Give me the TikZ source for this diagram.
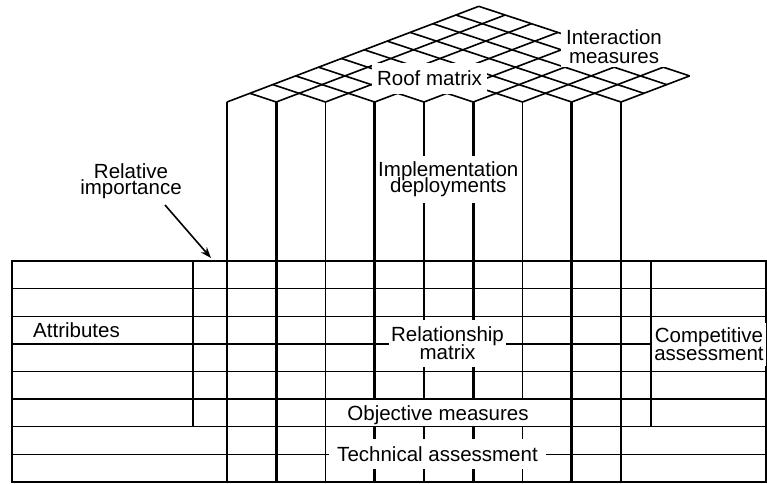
\documentclass[tikz,border=0pt]{standalone}
\usepackage{fontspec}
\setmainfont{Liberation Sans}
\usetikzlibrary{arrows.meta}
\lineskiplimit=-100pt
\begin{document}
\begin{tikzpicture}[x=1pt,y=-1pt,
  roofline/.style={line width=1.6pt},
  gridline/.style={line width=1.4pt,line cap=rect},
  colthin/.style={line width=1.4pt},
  colthick/.style={line width=2.8pt},
  lbl/.style={inner sep=0pt,font=\fontsize{20.5}{18}\selectfont},
  cover/.style={lbl,fill=white},
  pointer/.style={line width=1.6pt,-{Stealth[length=11pt,width=8pt]}}]
\pgfmathsetmacro{\colw}{49.25}
\pgfmathsetmacro{\rowh}{27.6}
\pgfmathsetmacro{\roofu}{26.36}
\pgfmathsetmacro{\roofv}{22.89}
\pgfmathsetmacro{\roofh}{8.7}
\useasboundingbox (0,0) rectangle (767,483);
\foreach \i in {0,...,8}
  \draw[roofline] ({227+\colw*\i},102) -- ({227+\roofu*\i+11*\roofv},{102+\roofh*\i-11*\roofh});
\foreach \j in {1,...,11}{
  \pgfmathsetmacro{\k}{min(\j,8)}
  \draw[roofline] ({227+\roofu*\k+\roofv*\j},{102+\roofh*\k-\roofh*\j}) -- ({227+\roofv*\j},{102-\roofh*\j});
}
\foreach \c in {0,2,4,6,8}
  \draw[colthin] ({227+\colw*\c},102) -- ({227+\colw*\c},{261+8*\rowh});
\foreach \c in {1,3,5,7}
  \draw[colthick] ({227+\colw*\c},102) -- ({227+\colw*\c},{261+8*\rowh});
\foreach \r in {0,...,8}
  \draw[gridline] (12,{261+\rowh*\r}) -- (766,{261+\rowh*\r});
\draw[gridline] (12,261) -- (12,{261+8*\rowh});
\draw[gridline] (766,261) -- (766,{261+8*\rowh});
\draw[gridline] (193,261) -- (193,{261+6*\rowh});
\draw[gridline] (651,261) -- (651,{261+6*\rowh});
\node[lbl,align=center,font=\fontsize{20.5}{16}\selectfont] (relimp) at (131,181) {Relative\\importance};
\coordinate (imptail) at (165,205);
\coordinate (imptip) at (211,258);
\draw[pointer] (imptail) -- (imptip);
\node[lbl,anchor=base] (attr) at (76.5,337) {Attributes};
\node[cover,inner xsep=5pt,inner ysep=8pt] (roofm) at (429.5,78.6) {Roof matrix};
\node[cover,align=center,font=\fontsize{20.5}{19}\selectfont,inner xsep=5pt,inner ysep=3.7pt] (inter) at (614,46.4) {Interaction\\measures};
\node[cover,align=center,font=\fontsize{20.5}{16}\selectfont,inner xsep=2pt,inner ysep=5.5pt] (impl) at (448.3,179.5) {Implementation\\deployments};
\node[cover,align=center,inner xsep=2pt,inner ysep=7pt] (relm) at (447.5,343.3) {Relationship\\matrix};
\node[cover,align=center,inner xsep=2pt,inner ysep=5pt] (compa) at (709,344.3) {Competitive\\assessment};
\node[cover,inner xsep=2pt,inner ysep=0pt,text height=20pt,text depth=5.6pt] (objm) at (438,412.8) {Objective measures};
\node[cover,inner xsep=8pt,inner ysep=7.5pt] (techa) at (437.5,454.2) {Technical assessment};
\end{tikzpicture}
\end{document}
